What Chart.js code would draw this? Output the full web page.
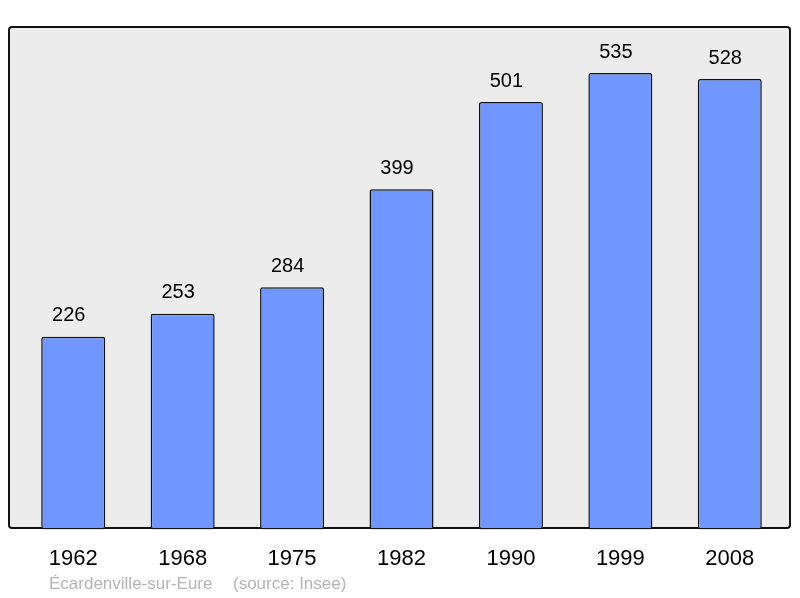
<!DOCTYPE html>
<html>
<head>
<meta charset="utf-8">
<script src="https://cdn.jsdelivr.net/npm/chart.js@4/dist/chart.umd.min.js"></script>
<style>
  html, body { margin: 0; padding: 0; background: #fff; }
  #wrap { width: 800px; height: 598px; }
</style>
</head>
<body>
<div id="wrap"><canvas id="popChart" width="800" height="598"></canvas></div>
<script>
// Population data
const years = ['1962', '1968', '1975', '1982', '1990', '1999', '2008'];
const population = [226, 253, 284, 399, 501, 535, 528];
const townName = 'Écardenville-sur-Eure';
const sourceText = '(source: Insee)';

const FONT = '"Liberation Sans", Arial, sans-serif';

// Grey framed background behind the bars
const framePlugin = {
    id: 'frame',
    beforeDraw(chart) {
        const ctx = chart.ctx;
        const x = 9, y = 27, w = 781, h = 501, r = 3;
        ctx.save();
        ctx.beginPath();
        ctx.roundRect(x, y, w, h, r);
        ctx.fillStyle = '#ececec';
        ctx.fill();
        ctx.lineWidth = 2;
        ctx.strokeStyle = '#111';
        ctx.stroke();
        ctx.restore();
    },
    afterDraw(chart) {
        const ctx = chart.ctx;
        ctx.save();
        ctx.font = '17px ' + FONT;
        ctx.fillStyle = '#b4b4b4';
        ctx.textBaseline = 'middle';
        ctx.fillText(townName, 49, 584);
        ctx.fillText(sourceText, 233, 584);
        ctx.restore();
    }
};

// Value labels above each bar (sit a little left of the bar centre)
const valueLabels = {
    id: 'valueLabels',
    afterDatasetsDraw(chart) {
        const ctx = chart.ctx;
        const meta = chart.getDatasetMeta(0);
        ctx.save();
        ctx.font = '20px ' + FONT;
        ctx.fillStyle = '#000';
        ctx.textAlign = 'center';
        ctx.textBaseline = 'middle';
        meta.data.forEach((bar, i) => {
            ctx.fillText(String(population[i]), bar.x - 4.5, bar.y - 21);
        });
        ctx.restore();
    }
};

new Chart(document.getElementById('popChart'), {
    type: 'bar',
    data: {
        labels: years,
        datasets: [{
            data: population,
            backgroundColor: '#7097ff',
            borderColor: '#111',
            borderWidth: 1.5,
            borderRadius: 2,
            borderSkipped: false,
            categoryPercentage: 1,
            barPercentage: 0.585
        }]
    },
    options: {
        responsive: false,
        animation: false,
        layout: { padding: { left: 18.5, right: 15.5, top: 27, bottom: 10 } },
        plugins: {
            legend: { display: false },
            tooltip: { enabled: false },
            title: { display: false }
        },
        scales: {
            x: {
                grid: { display: false, drawTicks: false },
                border: { display: false },
                ticks: {
                    color: '#000',
                    padding: 16,
                    font: { family: FONT, size: 22 }
                }
            },
            y: {
                display: false,
                min: 0,
                max: 589
            }
        }
    },
    plugins: [framePlugin, valueLabels]
});
</script>
</body>
</html>
